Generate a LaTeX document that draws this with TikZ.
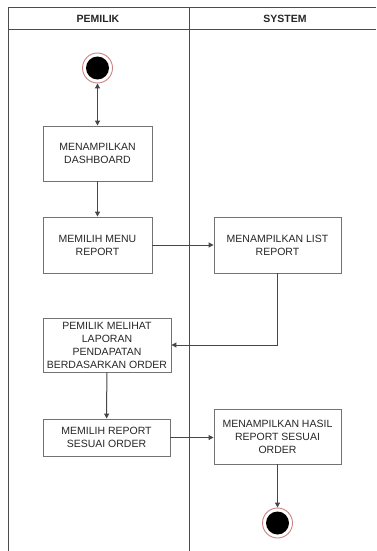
\documentclass[tikz,border=0pt]{standalone}
\usepackage{fontspec}
\setmainfont{Liberation Sans}
\usetikzlibrary{arrows.meta}
\definecolor{ringred}{RGB}{205,130,130}
\definecolor{linegray}{RGB}{70,70,70}
\begin{document}
\begin{tikzpicture}[x=1pt,y=-1pt,
	lane/.style={black!70, line width=1pt},
	lanehead/.style={font=\fontsize{10.5}{13}\selectfont\bfseries, text=black!85},
	act/.style={rectangle, draw=black!55, line width=0.9pt, align=center, inner sep=0pt, font=\fontsize{10.5}{13}\selectfont, text=black!85},
	endstate/.style={circle, draw=ringred, line width=0.9pt, fill=white, minimum size=30pt, inner sep=0pt,
		path picture={\fill [black] (path picture bounding box.center) circle (11.5pt);}},
	flow/.style={linegray, line width=1pt, -{Triangle[length=5pt,width=5pt]}}]
	\useasboundingbox (0,0) rectangle (376,551);
	% Swimlanes
	\draw [lane] (376,8) -- (8,8) -- (8,551);
	\draw [lane] (8,30) -- (376,30);
	\draw [lane] (189,8) -- (189,551);
	\node [lanehead] (pemilik) at (98,19) {PEMILIK};
	\node [lanehead] (system) at (285,19) {SYSTEM};
	% Activities
	\node [endstate] (start) at (97.5,68) {};
	\node [act, minimum width=109pt, minimum height=55pt] (dashboard) at (97.5,153.5) {MENAMPILKAN\\DASHBOARD};
	\node [act, minimum width=109pt, minimum height=56pt] (menu) at (97.5,245) {MEMILIH MENU\\REPORT};
	\node [act, minimum width=127pt, minimum height=56pt] (list) at (277.5,245) {MENAMPILKAN LIST\\REPORT};
	\node [act, minimum width=128pt, minimum height=54pt] (laporan) at (107,345) {PEMILIK MELIHAT\\LAPORAN\\PENDAPATAN\\BERDASARKAN ORDER};
	\node [act, minimum width=127pt, minimum height=37pt] (pilih) at (106.5,437.5) {MEMILIH REPORT\\SESUAI ORDER};
	\node [act, minimum width=127pt, minimum height=55pt] (hasil) at (277.5,436.5) {MENAMPILKAN HASIL\\REPORT SESUAI\\ORDER};
	\node [endstate] (stop) at (277.5,523) {};
	% Flows
	\draw [flow, {Triangle[length=5pt,width=5pt]}-{Triangle[length=5pt,width=5pt]}] (start) -- (dashboard);
	\draw [flow] (dashboard) -- (menu);
	\draw [flow] (menu) -- (list);
	\draw [flow] (list.south) |- (laporan.east);
	\draw [flow] (laporan) -- (pilih);
	\draw [flow] (pilih.east) -- (pilih.east -| hasil.west);
	\draw [flow] (hasil) -- (stop);
\end{tikzpicture}
\end{document}
